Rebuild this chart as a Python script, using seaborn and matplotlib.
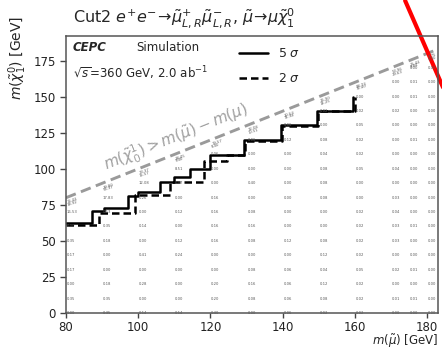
import matplotlib
matplotlib.use("Agg")
import matplotlib.pyplot as plt
import seaborn as sns
import numpy as np
import pandas as pd

# ---------------- data ----------------
m_smuon = [80, 90, 100, 110, 120, 130, 140, 150, 160, 170, 175, 180]
row_step = 10
cell_values = [
    [0.00, 0.35, 0.00, 0.17, 0.17, 0.35, 0.00, 16.53],
    [0.35, 0.35, 0.18, 0.00, 0.00, 0.18, 0.35, 0.53, 17.83],
    [0.14, 0.00, 0.28, 0.00, 0.41, 0.00, 0.14, 0.00, 0.26, 12.08],
    [0.14, 0.00, 0.00, 0.00, 0.24, 0.12, 0.00, 0.12, 0.00, 0.47, 8.51],
    [0.40, 0.20, 0.20, 0.00, 0.00, 0.16, 0.16, 0.16, 0.16, 0.00, 0.00, 0.06],
    [0.00, 0.08, 0.16, 0.08, 0.00, 0.08, 0.16, 0.08, 0.00, 0.40, 0.00, 0.00, 0.06],
    [0.06, 0.06, 0.06, 0.06, 0.00, 0.12, 0.00, 0.00, 0.00, 0.00, 0.00, 0.00, 0.12, 0.06],
    [0.02, 0.08, 0.12, 0.04, 0.12, 0.08, 0.00, 0.00, 0.08, 0.08, 0.08, 0.04, 0.08, 0.00, 0.02],
    [0.02, 0.02, 0.02, 0.05, 0.02, 0.02, 0.02, 0.02, 0.00, 0.00, 0.05, 0.02, 0.02, 0.05, 0.02, 0.00],
    [0.00, 0.01, 0.00, 0.02, 0.00, 0.03, 0.03, 0.04, 0.03, 0.00, 0.04, 0.00, 0.00, 0.00, 0.02, 0.00, 0.00],
    [0.00, 0.01, 0.00, 0.01, 0.00, 0.00, 0.01, 0.00, 0.00, 0.00, 0.00, 0.00, 0.01, 0.00, 0.00, 0.01, 0.01, 0.00],
    [0.00, 0.00, 0.00, 0.00, 0.00, 0.00, 0.00, 0.00, 0.00, 0.00, 0.00, 0.00, 0.00, 0.00, 0.00, 0.00, 0.00, 0.00],
]
edge_upper = [16.44, 39.80, 23.37, 18.45, 19.57, 22.08, 20.53, 26.90, 88.73, 53.96, 25.44, 8.75]
edge_lower = [18.92, 56.37, 15.57, 9.40, 8.40, 10.51, 11.34, 14.25, 32.40, 29.63, 8.84, 5.90]

# 5 sigma and 2 sigma contour (step) vertices
x_5sigma = [80, 87.3, 90.4, 97.2, 99.8, 106.0, 109.8, 114.4, 120.0, 129.3, 139.4, 149.6, 159.6]
y_5sigma = [62.5, 70.5, 72.5, 81.0, 84.0, 90.5, 94.5, 99.5, 109.5, 119.6, 130.0, 140.0, 150.0]
x_2sigma = [80, 89.0, 99.0, 108.9, 118.1, 124.7, 129.6, 139.7, 149.9, 159.9]
y_2sigma = [61.0, 69.0, 81.6, 90.8, 105.4, 109.2, 119.3, 129.7, 139.7, 149.7]

m_muon = 0.1057
diag_x = [80, 183]

red_x = [173.9, 189.1]
red_y = [216.5, 129.4]

# ---------------- figure ----------------
sns.set_theme(style="ticks")
plt.rcParams["font.family"] = ["DejaVu Sans"]
plt.rcParams["mathtext.fontset"] = "dejavusans"

fig = plt.figure(figsize=(4.42, 3.5), dpi=100)
ax = fig.add_axes([66/442, 1-313/350, (438-66)/442, (313-36)/350])

# cell texts
txt_color = "#5a5a5a"
for mx, vals in zip(m_smuon, cell_values):
    for i, v in enumerate(vals):
        ax.text(mx + 0.2, i * row_step, f"{v:.2f}", fontsize=2.7, color=txt_color,
                ha="left", va="center")
for mx, a, b in zip(m_smuon, edge_upper, edge_lower):
    ax.text(mx + 0.2, mx - 2.0, f"{a:.2f}", fontsize=2.7, color=txt_color,
            ha="left", va="center", rotation=18)
    ax.text(mx + 0.2, mx - 3.8, f"{b:.2f}", fontsize=2.7, color=txt_color,
            ha="left", va="center", rotation=18)

# kinematic boundary
diag_df = pd.DataFrame({"x": diag_x, "y": [v - m_muon for v in diag_x]})
sns.lineplot(data=diag_df, x="x", y="y", ax=ax, color="#9a9a9a", lw=2.1,
             dashes=False, linestyle=(0, (3.6, 1.9)))
ax.text(110.5, 121.5, r"$m(\tilde{\chi}^1_0) > m(\tilde{\mu}) - m(\mu)$",
        rotation=21.8, rotation_mode="anchor", ha="center", va="center",
        fontsize=11, color="#a0a0a0")

# contours
df5 = pd.DataFrame({"x": x_5sigma, "y": y_5sigma})
df2 = pd.DataFrame({"x": x_2sigma, "y": y_2sigma})
sns.lineplot(data=df5, x="x", y="y", ax=ax, color="black", lw=1.8,
             drawstyle="steps-post", label=r"5 $\sigma$", estimator=None)
sns.lineplot(data=df2, x="x", y="y", ax=ax, color="black", lw=1.8,
             drawstyle="steps-post", label=r"2 $\sigma$", estimator=None,
             linestyle=(0, (3.0, 1.6)))

ax.set_xlim(80, 183)
ax.set_ylim(0, 192)
ax.set_xticks([80, 100, 120, 140, 160, 180])
ax.set_yticks([0, 25, 50, 75, 100, 125, 150, 175])
ax.tick_params(labelsize=8.5, length=4, width=1, colors="#444444", labelcolor="#222222")
ax.tick_params(axis="x", pad=2.0, length=3.5)
for s in ax.spines.values():
    s.set_color("#555555")
    s.set_linewidth(1.1)

ax.set_xlabel("")
ax.set_ylabel("")
fig.text(438/442, 1 - 349.5/350, r"$m(\tilde{\mu})$ [GeV]", ha="right", va="bottom",
         fontsize=8.5)
fig.text(18/442, 1 - 58/350, r"$m(\tilde{\chi}^0_1)$ [GeV]", rotation=90,
         ha="center", va="center", fontsize=10)

leg = ax.legend(loc="upper left", bbox_to_anchor=(0.435, 1.0), frameon=False,
                fontsize=9, handlelength=2.3, labelspacing=0.95, handletextpad=0.8)

ax.text(0.019, 0.96, "CEPC", transform=ax.transAxes, fontsize=8.5,
        fontweight="bold", fontstyle="italic", va="center", ha="left")
ax.text(0.19, 0.96, "Simulation", transform=ax.transAxes, fontsize=8.5,
        va="center", ha="left")
ax.text(0.019, 0.866, r"$\sqrt{s}$=360 GeV, 2.0 ab$^{-1}$", transform=ax.transAxes,
        fontsize=8.5, va="center", ha="left")

ax.text(0.019, 1.065,
        r"Cut2 $e^{+}e^{-}\!\rightarrow\!\tilde{\mu}^{+}_{L,R}\tilde{\mu}^{-}_{L,R}$, $\tilde{\mu}\!\rightarrow\!\mu\tilde{\chi}^{0}_{1}$",
        transform=ax.transAxes, fontsize=11.5, va="center", ha="left")

red_df = pd.DataFrame({"x": red_x, "y": red_y})
ax.plot(red_df["x"], red_df["y"], color="red", lw=3, clip_on=False)

fig.savefig("out.png", dpi=100)
